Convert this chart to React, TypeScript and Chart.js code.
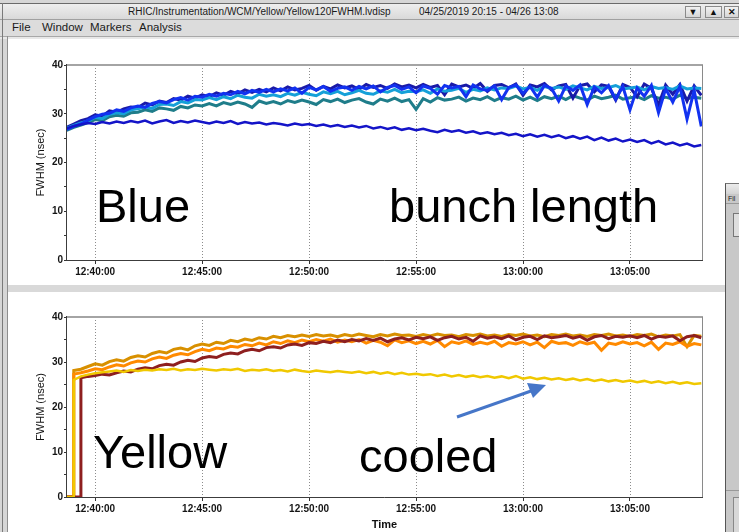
import React, { useEffect, useRef } from "react";
import { Chart, registerables } from "chart.js";

Chart.register(...registerables);

// ---------- data ----------
const TIMES = [
  "12:38:40",
  "12:39:00", "12:39:20", "12:39:40",
  "12:40:00", "12:40:20", "12:40:40",
  "12:41:00", "12:41:20", "12:41:40",
  "12:42:00", "12:42:20", "12:42:40",
  "12:43:00", "12:43:20", "12:43:40",
  "12:44:00", "12:44:20", "12:44:40",
  "12:45:00", "12:45:20", "12:45:40",
  "12:46:00", "12:46:20", "12:46:40",
  "12:47:00", "12:47:20", "12:47:40",
  "12:48:00", "12:48:20", "12:48:40",
  "12:49:00", "12:49:20", "12:49:40",
  "12:50:00", "12:50:20", "12:50:40",
  "12:51:00", "12:51:20", "12:51:40",
  "12:52:00", "12:52:20", "12:52:40",
  "12:53:00", "12:53:20", "12:53:40",
  "12:54:00", "12:54:20", "12:54:40",
  "12:55:00", "12:55:20", "12:55:40",
  "12:56:00", "12:56:20", "12:56:40",
  "12:57:00", "12:57:20", "12:57:40",
  "12:58:00", "12:58:20", "12:58:40",
  "12:59:00", "12:59:20", "12:59:40",
  "13:00:00", "13:00:20", "13:00:40",
  "13:01:00", "13:01:20", "13:01:40",
  "13:02:00", "13:02:20", "13:02:40",
  "13:03:00", "13:03:20", "13:03:40",
  "13:04:00", "13:04:20", "13:04:40",
  "13:05:00", "13:05:20", "13:05:40",
  "13:06:00", "13:06:20", "13:06:40",
  "13:07:00", "13:07:20", "13:07:40",
  "13:08:00", "13:08:20",
];

const X_MIN = "12:38:41";
const X_MAX = "13:08:22";
const X_TICKS = ["12:40:00", "12:45:00", "12:50:00", "12:55:00", "13:00:00", "13:05:00"];
const Y_TICKS = [0, 5, 10, 15, 20, 25, 30, 35, 40];
const Y_LABELS = ["0", "", "10", "", "20", "", "30", "", "40"];

// Blue ring (FWHM, nsec)
const BLUE_NAVY = [
  27.2, 27.9, 28.6, 29.0, 29.8, 29.5, 30.6, 30.3, 31.0, 31.4,
  31.3, 32.2, 31.8, 32.6, 32.3, 33.1, 32.8, 33.6, 33.2, 33.9,
  33.5, 34.3, 33.8, 34.6, 34.1, 34.9, 34.4, 35.0, 34.5, 35.3,
  34.7, 35.5, 34.9, 35.2, 35.8, 34.8, 35.6, 35.1, 35.9, 35.3,
  35.7, 35.0, 36.0, 35.4, 35.8, 35.2, 36.1, 35.5, 35.9, 35.3,
  36.0, 35.4, 35.8, 33.9, 36.1, 35.5, 35.9, 35.2, 36.2, 34.6,
  35.8, 36.0, 35.3, 36.1, 33.8, 35.9, 35.5, 36.2, 34.9, 35.7,
  36.0, 33.2, 35.8, 36.1, 34.5, 35.9, 35.6, 32.8, 36.0, 35.4,
  33.5, 36.1, 35.2, 31.8, 35.9, 34.0, 36.0, 32.6, 35.7, 33.8,
];
const BLUE_ROYAL = [
  26.8, 27.4, 27.9, 28.7, 29.4, 29.9, 30.1, 30.8, 30.5, 31.2,
  31.6, 31.3, 32.1, 32.5, 32.2, 32.9, 33.3, 32.8, 33.6, 33.4,
  34.0, 33.6, 34.2, 33.9, 34.6, 34.1, 34.8, 34.4, 35.0, 34.5,
  35.1, 34.7, 35.3, 34.2, 35.4, 34.9, 35.6, 34.6, 35.2, 35.5,
  34.8, 35.6, 35.1, 35.7, 34.5, 35.4, 35.8, 35.0, 35.5, 34.3,
  35.7, 35.2, 34.0, 35.8, 35.3, 35.6, 33.5, 35.9, 35.1, 34.8,
  35.7, 32.9, 35.4, 35.9, 34.2, 35.6, 33.4, 35.8, 35.2, 32.6,
  35.7, 34.8, 35.9, 31.9, 35.5, 34.3, 35.8, 33.0, 35.6, 30.8,
  35.3, 33.6, 35.8, 30.2, 35.1, 32.4, 35.6, 28.9, 34.8, 27.4,
];
const BLUE_SKY = [
  27.0, 27.6, 28.1, 28.5, 29.3, 29.0, 29.9, 30.2, 30.0, 30.8,
  31.0, 31.4, 31.1, 31.9, 32.0, 31.7, 32.5, 32.2, 32.9, 32.8,
  33.3, 32.9, 33.5, 33.1, 33.8, 33.4, 33.2, 34.0, 33.6, 33.9,
  33.5, 34.2, 33.8, 34.4, 34.0, 33.7, 34.5, 34.1, 34.6, 33.9,
  34.3, 34.8, 34.2, 34.0, 34.7, 34.4, 35.0, 34.3, 34.6, 34.5,
  34.9, 34.2, 35.1, 34.6, 34.8, 35.2, 34.4, 35.0, 34.7, 35.3,
  34.9, 35.3, 35.2, 35.7, 35.1, 35.4, 34.8, 35.6, 35.2, 35.5,
  35.0, 35.7, 35.3, 34.9, 35.6, 35.2, 35.4, 35.8, 35.1, 35.3,
  35.5, 34.9, 35.6, 35.2, 35.4, 35.0, 35.7, 35.1, 35.3, 35.2,
];
const BLUE_TEAL = [
  26.6, 27.2, 27.7, 28.2, 28.8, 28.6, 29.4, 29.7, 29.5, 30.2,
  30.3, 30.8, 30.5, 31.2, 31.0, 30.7, 31.5, 31.2, 31.8, 31.6,
  32.1, 31.6, 32.3, 31.9, 32.4, 32.0, 31.3, 32.6, 32.1, 32.5,
  32.0, 32.7, 32.3, 32.8, 32.4, 31.9, 32.9, 32.5, 33.0, 32.3,
  32.8, 33.1, 32.4, 32.0, 33.0, 32.6, 33.2, 32.5, 32.9, 30.9,
  33.1, 32.4, 33.3, 32.8, 33.0, 33.4, 32.6, 33.2, 32.9, 33.5,
  32.7, 33.3, 33.0, 33.6, 32.8, 33.4, 32.7, 33.5, 33.1, 33.6,
  32.9, 33.7, 33.2, 32.8, 33.6, 33.1, 33.4, 33.8, 33.0, 33.3,
  33.5, 32.9, 33.7, 33.2, 33.4, 33.0, 33.8, 33.1, 33.4, 33.2,
];
const BLUE_COOLED = [
  27.0, 27.5, 27.8, 28.1, 27.9, 28.3, 28.0, 28.4, 28.1, 28.5,
  28.2, 28.6, 28.0, 28.4, 28.7, 28.1, 28.5, 28.2, 28.6, 28.3,
  28.0, 28.4, 28.1, 28.5, 27.9, 28.3, 28.0, 28.2, 27.8, 28.1,
  27.9, 27.6, 28.0, 27.7, 27.9, 27.5, 27.8, 27.4, 27.7, 27.3,
  27.6, 27.2, 27.5, 27.0, 27.3, 26.9, 27.2, 26.7, 27.0, 26.6,
  26.9, 26.5, 26.2, 26.7, 26.3, 26.6, 26.1, 26.4, 25.9, 26.2,
  25.8, 26.1, 25.6, 25.9, 25.4, 25.8, 25.3, 25.7, 25.2, 25.6,
  25.0, 25.4, 24.9, 25.3, 24.6, 25.1, 24.5, 24.9, 24.3, 24.7,
  24.2, 24.6, 23.9, 24.4, 23.7, 24.1, 23.5, 23.9, 23.3, 23.6,
];

// Yellow ring (FWHM, nsec); 0 = no beam yet
const YEL_GOLD = [
  0, 28.1, 28.4, 29.0, 29.6, 29.3, 30.1, 30.5, 30.2, 31.0,
  31.4, 31.1, 31.9, 32.3, 32.0, 32.8, 33.1, 32.7, 33.6, 34.0,
  33.7, 34.4, 34.1, 34.8, 34.5, 35.1, 34.8, 35.4, 35.1, 35.7,
  35.4, 35.9, 35.6, 36.0, 35.7, 36.1, 35.8, 36.0, 35.6, 36.1,
  35.8, 36.2, 35.9, 35.6, 36.1, 35.8, 36.2, 35.9, 36.0, 35.7,
  36.1, 35.8, 36.2, 35.9, 36.0, 35.6, 36.1, 35.9, 36.2, 35.8,
  36.0, 35.7, 36.1, 35.9, 36.2, 35.8, 36.0, 35.6, 36.1, 35.9,
  36.2, 35.8, 36.0, 35.7, 36.1, 35.9, 36.2, 35.8, 36.0, 35.7,
  36.1, 35.9, 36.2, 35.6, 36.0, 35.8, 36.1, 33.4, 35.9, 35.7,
];
const YEL_ORANGE = [
  0, 27.3, 27.6, 28.0, 28.5, 28.3, 28.9, 29.4, 29.1, 29.8,
  30.2, 30.0, 30.7, 31.1, 30.8, 31.5, 31.9, 31.6, 32.3, 32.8,
  32.5, 33.1, 32.9, 33.5, 33.3, 33.9, 33.6, 34.2, 33.8, 34.5,
  34.1, 34.7, 34.3, 34.9, 34.5, 35.0, 34.6, 35.1, 34.4, 34.9,
  34.5, 35.0, 34.2, 34.8, 34.4, 33.6, 34.9, 34.3, 34.7, 34.1,
  34.6, 34.0, 34.8, 33.4, 34.5, 34.1, 34.7, 33.9, 34.4, 34.0,
  34.6, 33.5, 34.3, 34.0, 34.5, 33.8, 34.4, 33.2, 34.6, 34.1,
  34.3, 33.7, 34.5, 34.0, 34.4, 32.6, 34.2, 33.9, 34.5, 34.0,
  34.3, 33.6, 34.4, 32.8, 34.2, 33.9, 34.5, 33.5, 34.1, 33.8,
];
const YEL_MAROON = [
  0, 0, 26.5, 26.8, 27.0, 27.3, 27.1, 27.6, 28.0, 27.8,
  28.4, 28.7, 28.5, 29.2, 29.5, 29.3, 30.0, 30.4, 30.1, 30.9,
  31.2, 31.0, 31.7, 32.0, 31.8, 32.5, 32.8, 32.5, 33.2, 33.4,
  33.1, 33.8, 34.0, 33.7, 34.3, 34.1, 34.6, 34.3, 34.9, 34.5,
  35.0, 34.7, 35.2, 34.8, 35.3, 34.5, 35.1, 35.4, 34.9, 35.5,
  35.2, 35.6, 34.8, 35.4, 35.7, 35.1, 35.5, 34.6, 35.8, 35.3,
  35.6, 35.2, 35.8, 34.9, 35.5, 35.7, 35.0, 35.8, 35.4, 35.6,
  35.9, 35.3, 35.7, 34.8, 35.6, 35.9, 35.2, 35.7, 35.5, 35.8,
  35.4, 35.9, 35.1, 35.7, 35.5, 35.8, 34.7, 35.6, 35.9, 35.4,
];
const YEL_COOLED = [
  0, 26.0, 26.8, 27.2, 27.5, 27.7, 27.9, 28.1, 27.8, 28.2,
  28.0, 28.3, 28.1, 28.4, 28.2, 28.5, 28.1, 28.4, 28.2, 28.5,
  28.3, 28.1, 28.4, 28.2, 28.5, 28.0, 28.3, 28.1, 28.4, 28.0,
  28.2, 27.9, 28.3, 28.0, 27.8, 28.1, 27.9, 27.7, 28.0, 27.8,
  27.6, 27.9, 27.5, 27.8, 27.4, 27.7, 27.3, 27.6, 27.2, 27.4,
  27.1, 27.3, 26.9, 27.2, 26.8, 27.1, 26.7, 27.0, 26.6, 26.9,
  26.5, 26.8, 26.4, 26.9, 26.3, 26.6, 26.2, 26.5, 26.1, 26.4,
  26.0, 26.3, 25.9, 26.2, 25.8, 26.1, 25.7, 26.0, 25.6, 25.9,
  25.5, 25.8, 25.4, 25.7, 25.3, 25.6, 25.2, 25.5, 25.1, 25.3,
];

// ---------- helpers ----------
function toMin(s: string): number {
  const [h, m, sec] = s.split(":").map(Number);
  return (h - 12) * 60 + m + sec / 60;
}

function points(vals: number[]) {
  const out: { x: number; y: number }[] = [];
  for (let i = 0; i < vals.length; i++) {
    const x = toMin(TIMES[i]);
    if (i > 0 && vals[i - 1] === 0 && vals[i] > 0) out.push({ x: x - 1 / 60, y: 0 });
    out.push({ x, y: vals[i] });
  }
  return out;
}

function ds(label: string, vals: number[], color: string, width = 3) {
  return {
    label,
    data: points(vals),
    borderColor: color,
    backgroundColor: color,
    borderWidth: width,
    pointRadius: 0,
    tension: 0,
    fill: false,
  };
}

const FONT = "'Liberation Sans', Arial, Helvetica, sans-serif";

const decorPlugin = {
  id: "decor",
  beforeDatasetsDraw(chart: any) {
    const { ctx, chartArea: a } = chart;
    const xs = chart.scales.x;
    ctx.save();
    ctx.strokeStyle = "#8c8c8c";
    ctx.lineWidth = 1;
    ctx.setLineDash([1, 2]);
    for (const t of xs.ticks) {
      const px = Math.round(xs.getPixelForValue(t.value)) + 0.5;
      ctx.beginPath();
      ctx.moveTo(px, a.top);
      ctx.lineTo(px, a.bottom);
      ctx.stroke();
    }
    ctx.restore();
  },
  afterDatasetsDraw(chart: any, _args: any, opts: any) {
    const { ctx, chartArea: a } = chart;
    ctx.save();
    ctx.strokeStyle = "#a4a4a4";
    ctx.lineWidth = 2;
    ctx.beginPath();
    ctx.moveTo(a.left - 1, a.top);
    ctx.lineTo(a.right + 1, a.top);
    ctx.stroke();
    ctx.lineWidth = 1;
    ctx.strokeStyle = "#8a8a8a";
    ctx.beginPath();
    ctx.moveTo(a.right + 0.5, a.top);
    ctx.lineTo(a.right + 0.5, a.bottom);
    ctx.stroke();
    ctx.strokeStyle = "#3c3c3c";
    ctx.beginPath();
    ctx.moveTo(a.left - 0.5, a.top - 1);
    ctx.lineTo(a.left - 0.5, a.bottom + 0.5);
    ctx.lineTo(a.right + 1, a.bottom + 0.5);
    ctx.stroke();

    ctx.fillStyle = "#111";
    if (opts.yTitle) {
      ctx.save();
      ctx.translate(opts.yTitleX, (a.top + a.bottom) / 2);
      ctx.rotate(-Math.PI / 2);
      ctx.font = `11px ${FONT}`;
      ctx.textAlign = "center";
      ctx.textBaseline = "middle";
      ctx.fillText(opts.yTitle, 0, 0);
      ctx.restore();
    }
    if (opts.xTitle) {
      ctx.font = `bold 11px ${FONT}`;
      ctx.textAlign = "center";
      ctx.textBaseline = "middle";
      ctx.fillText(opts.xTitle, (a.left + a.right) / 2, opts.xTitleY);
    }
    ctx.restore();
  },
};

function makeConfig(datasets: any[], padTop: number, xAxisH: number, xTitle: string | null, xTitleY: number) {
  return {
    type: "line" as const,
    data: { datasets },
    options: {
      responsive: false,
      animation: false as const,
      events: [],
      layout: { padding: { top: padTop, right: 20, left: 0, bottom: 0 } },
      plugins: {
        legend: { display: false },
        tooltip: { enabled: false },
        decor: { yTitle: "FWHM (nsec)", yTitleX: 33, xTitle, xTitleY },
      },
      scales: {
        x: {
          type: "linear" as const,
          min: toMin(X_MIN),
          max: toMin(X_MAX),
          afterBuildTicks: (s: any) => {
            s.ticks = X_TICKS.map((t) => ({ value: toMin(t) }));
          },
          ticks: {
            callback: (_v: any, i: number) => X_TICKS[i],
            font: { size: 10, weight: "bold" as const, family: FONT },
            color: "#141414",
            padding: 2,
            maxRotation: 0,
            autoSkip: false,
          },
          grid: { drawOnChartArea: false, drawTicks: true, tickLength: 4, color: "#333" },
          border: { display: false },
          afterFit: (s: any) => {
            s.height = xAxisH;
          },
        },
        y: {
          min: 0,
          max: 40,
          afterBuildTicks: (s: any) => {
            s.ticks = Y_TICKS.map((v) => ({ value: v }));
          },
          ticks: {
            callback: (_v: any, i: number) => Y_LABELS[i],
            font: { size: 10, weight: "bold" as const, family: FONT },
            color: "#141414",
            padding: 1,
            autoSkip: false,
          },
          grid: { drawOnChartArea: false, drawTicks: true, tickLength: 3, color: "#333" },
          border: { display: false },
          afterFit: (s: any) => {
            s.width = 59;
          },
        },
      },
    },
    plugins: [decorPlugin],
  };
}

const abs = (l: number, t: number, w: number, h: number, extra: any = {}) => ({
  position: "absolute" as const,
  left: l,
  top: t,
  width: w,
  height: h,
  ...extra,
});

export default function App() {
  const topRef = useRef<HTMLCanvasElement>(null);
  const botRef = useRef<HTMLCanvasElement>(null);

  useEffect(() => {
    const top = new Chart(
      topRef.current as HTMLCanvasElement,
      makeConfig(
        [
          ds("Blue cooled", BLUE_COOLED, "#1414c8", 2.5),
          ds("Blue 1", BLUE_ROYAL, "#1232f0"),
          ds("Blue 2", BLUE_SKY, "#15a0d8"),
          ds("Blue 3", BLUE_NAVY, "#1a1aa8"),
          ds("Blue 4", BLUE_TEAL, "#1f7d8a"),
        ],
        25,
        25,
        null,
        0
      ) as any
    );
    const bot = new Chart(
      botRef.current as HTMLCanvasElement,
      makeConfig(
        [
          ds("Yellow cooled", YEL_COOLED, "#f0c800", 2.5),
          ds("Yellow 1", YEL_MAROON, "#8e1f1f"),
          ds("Yellow 2", YEL_ORANGE, "#ff8a00"),
          ds("Yellow 3", YEL_GOLD, "#d89000"),
        ],
        24,
        35,
        "Time",
        232
      ) as any
    );
    return () => {
      top.destroy();
      bot.destroy();
    };
  }, []);

  const label = (l: number, t: number, text: string, size: number, extra: any = {}) => (
    <div
      style={{
        position: "absolute",
        left: l,
        top: t,
        fontSize: size,
        lineHeight: 1,
        whiteSpace: "nowrap",
        color: "#1a1a1a",
        ...extra,
      }}
    >
      {text}
    </div>
  );

  const btn = (l: number, w: number, glyph: string) => (
    <div
      style={abs(l, 6, w, 12, {
        background: "linear-gradient(#f2f2f2,#d6d6d6)",
        border: "1px solid #8a8a8a",
        boxSizing: "border-box",
        fontSize: 9,
        lineHeight: "10px",
        textAlign: "center",
        fontWeight: "bold",
        color: "#111",
      })}
    >
      {glyph}
    </div>
  );

  return (
    <div
      style={{
        position: "fixed",
        left: 0,
        top: 0,
        width: 739,
        height: 532,
        overflow: "hidden",
        background: "#d6d6d6",
        fontFamily: FONT,
      }}
    >
      {/* title bar */}
      <div style={abs(0, 3, 739, 1, { background: "#6a6a6a" })} />
      <div style={abs(0, 4, 739, 15, { background: "linear-gradient(#eeeeee,#d9d9d9)" })} />
      {label(128, 7, "RHIC/Instrumentation/WCM/Yellow/Yellow120FWHM.lvdisp", 10)}
      {label(419, 7, "04/25/2019 20:15 - 04/26 13:08", 10)}
      {btn(685, 16, "▼")}
      {btn(705, 17, "▲")}
      {btn(724, 15, "✕")}
      <div style={abs(0, 19, 739, 1, { background: "#a0a0a0" })} />
      {/* menu bar */}
      <div style={abs(0, 20, 739, 16, { background: "#dcdcdc" })} />
      {label(12, 22, "File", 11.5)}
      {label(42, 22, "Window", 11.5)}
      {label(90, 22, "Markers", 11.5)}
      {label(139, 22, "Analysis", 11.5)}
      <div style={abs(0, 36, 739, 1, { background: "#a8a8a8" })} />
      <div style={abs(0, 37, 739, 2, { background: "#e8e8e8" })} />
      {/* left window border */}
      <div style={abs(2, 3, 1, 529, { background: "#7a7a7a" })} />
      <div style={abs(7, 36, 1, 496, { background: "#8e8e8e" })} />
      {/* panels */}
      <div style={abs(8, 39, 731, 246, { background: "#ffffff" })} />
      <div style={abs(8, 285, 731, 7, { background: "#d9d9d9" })} />
      <div style={abs(8, 292, 731, 240, { background: "#ffffff" })} />

      <canvas ref={topRef} width={714} height={245} style={abs(8, 40, 714, 245, { display: "block" })} />
      <canvas ref={botRef} width={714} height={239} style={abs(8, 293, 714, 239, { display: "block" })} />

      {/* partially visible second window */}
      <div style={abs(725, 183, 20, 349, { background: "#c8c8c8", borderLeft: "1px solid #555", borderTop: "1px solid #777", boxSizing: "border-box" })}>
        <div style={abs(0, 0, 20, 10, { background: "linear-gradient(#ececec,#d4d4d4)" })} />
        <div style={{ position: "absolute", left: 2, top: 11, fontSize: 7, lineHeight: 1, color: "#222" }}>Fil</div>
        <div style={abs(0, 19, 20, 1, { background: "#999" })} />
        <div style={abs(7, 29, 13, 24, { background: "#dedede", border: "1px solid #777", boxSizing: "border-box" })} />
        <div style={abs(0, 306, 20, 1, { background: "#999" })} />
        <div style={abs(7, 313, 13, 36, { background: "#d8d8d8", border: "1px solid #888", boxSizing: "border-box" })} />
      </div>

      {/* annotations */}
      <svg width={739} height={532} style={{ position: "absolute", left: 0, top: 0, pointerEvents: "none" }}>
        <g fontFamily={FONT} fontSize={47} fill="#000">
          <text x={96} y={222}>Blue</text>
          <text x={389} y={222}>bunch length</text>
          <text x={93} y={468}>Yellow</text>
          <text x={359} y={472}>cooled</text>
        </g>
        <line x1={457} y1={417} x2={531} y2={391} stroke="#4676c8" strokeWidth={3} />
        <polygon points="546,385 533,398 527,383" fill="#4676c8" />
      </svg>
    </div>
  );
}
